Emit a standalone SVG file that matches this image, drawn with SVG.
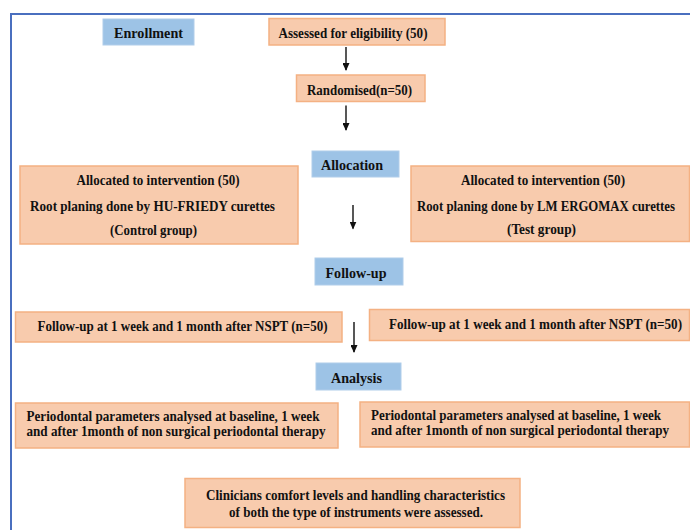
<svg xmlns="http://www.w3.org/2000/svg" width="690" height="530" viewBox="0 0 690 530">
<defs>
<style>
.o{fill:#f8cbad;stroke:#f4b183;stroke-width:1.5}
.b{fill:#9dc3e6;stroke:#b0cdea;stroke-width:1}
text{font-family:"Liberation Serif","Times New Roman",serif;font-weight:bold;font-size:15px;fill:#111}
.c{text-anchor:middle}
.frame{stroke:#4a6fbf;stroke-width:2;fill:none}
.arr{stroke:#111;stroke-width:1.4;fill:none;marker-end:url(#ah)}
</style>
<marker id="ah" markerUnits="userSpaceOnUse" markerWidth="8" markerHeight="7" refX="7" refY="3.5" orient="auto" viewBox="0 0 8 7">
<path d="M0,0 L8,3.5 L0,7 Z" fill="#111"/>
</marker>
</defs>
<rect width="690" height="530" fill="#fff"/>
<path class="frame" d="M11,530 V14 H690"/>

<g id="enrollment"><rect class="b" x="103" y="19" width="91" height="26"/><text class="c" x="148.5" y="37.5" textLength="69" lengthAdjust="spacingAndGlyphs">Enrollment</text></g>
<g id="assessed"><rect class="o" x="269" y="18.5" width="176" height="26.5"/><text class="c" x="353" y="37.5" textLength="149" lengthAdjust="spacingAndGlyphs">Assessed for eligibility (50)</text></g>
<g id="randomised"><rect class="o" x="296.5" y="75" width="128.5" height="26.5"/><text class="c" x="359.5" y="95" textLength="105" lengthAdjust="spacingAndGlyphs">Randomised(n=50)</text></g>
<g id="allocation"><rect class="b" x="312" y="151" width="87" height="26"/><text class="c" x="352" y="170" textLength="62" lengthAdjust="spacingAndGlyphs">Allocation</text></g>
<g id="control-alloc"><rect class="o" x="20" y="166" width="278" height="78"/>
<text class="c" x="158" y="185" textLength="163" lengthAdjust="spacingAndGlyphs">Allocated to intervention (50)</text>
<text class="c" x="152.5" y="210.5" textLength="245" lengthAdjust="spacingAndGlyphs">Root planing done by HU-FRIEDY curettes</text>
<text class="c" x="153.5" y="235" textLength="87" lengthAdjust="spacingAndGlyphs">(Control group)</text></g>
<g id="test-alloc"><rect class="o" x="411" y="166" width="278.5" height="75.5"/>
<text class="c" x="543" y="185" textLength="164" lengthAdjust="spacingAndGlyphs">Allocated to intervention (50)</text>
<text class="c" x="546" y="210.5" textLength="258" lengthAdjust="spacingAndGlyphs">Root planing done by LM ERGOMAX curettes</text>
<text class="c" x="541.5" y="234" textLength="69" lengthAdjust="spacingAndGlyphs">(Test group)</text></g>
<g id="followup"><rect class="b" x="315" y="258" width="88" height="27"/><text class="c" x="356" y="278" textLength="61" lengthAdjust="spacingAndGlyphs">Follow-up</text></g>
<g id="control-follow"><rect class="o" x="15.5" y="312" width="326.5" height="30"/><text class="c" x="182.5" y="331" textLength="290" lengthAdjust="spacingAndGlyphs">Follow-up at 1 week and 1 month after NSPT (n=50)</text></g>
<g id="test-follow"><rect class="o" x="369.5" y="309.5" width="320" height="31"/><text class="c" x="535.5" y="329" textLength="293" lengthAdjust="spacingAndGlyphs">Follow-up at 1 week and 1 month after NSPT (n=50)</text></g>
<g id="analysis"><rect class="b" x="316" y="363" width="85" height="27"/><text class="c" x="356.5" y="383" textLength="51" lengthAdjust="spacingAndGlyphs">Analysis</text></g>
<g id="control-analysis"><rect class="o" x="15.5" y="403" width="322.5" height="45"/>
<text x="26.5" y="420.5" textLength="293" lengthAdjust="spacingAndGlyphs">Periodontal parameters analysed at baseline, 1 week</text>
<text x="26.5" y="436" textLength="299" lengthAdjust="spacingAndGlyphs">and after 1month of non surgical periodontal therapy</text></g>
<g id="test-analysis"><rect class="o" x="360" y="402" width="329.5" height="45"/>
<text x="371" y="419.5" textLength="290" lengthAdjust="spacingAndGlyphs">Periodontal parameters analysed at baseline, 1 week</text>
<text x="371" y="435" textLength="298" lengthAdjust="spacingAndGlyphs">and after 1month of non surgical periodontal therapy</text></g>
<g id="clinicians"><rect class="o" x="185" y="478.5" width="335" height="49"/>
<text class="c" x="355.5" y="500" textLength="299" lengthAdjust="spacingAndGlyphs">Clinicians comfort levels and handling characteristics</text>
<text class="c" x="356" y="516.5" textLength="254" lengthAdjust="spacingAndGlyphs">of both the type of instruments were assessed.</text></g>

<g id="connectors">
<line class="arr" x1="346" y1="47" x2="346" y2="70"/>
<line class="arr" x1="346" y1="105.5" x2="346" y2="130"/>
<line class="arr" x1="353" y1="205" x2="353" y2="228.5"/>
<line class="arr" x1="354" y1="322" x2="354" y2="352"/>
</g>
</svg>
